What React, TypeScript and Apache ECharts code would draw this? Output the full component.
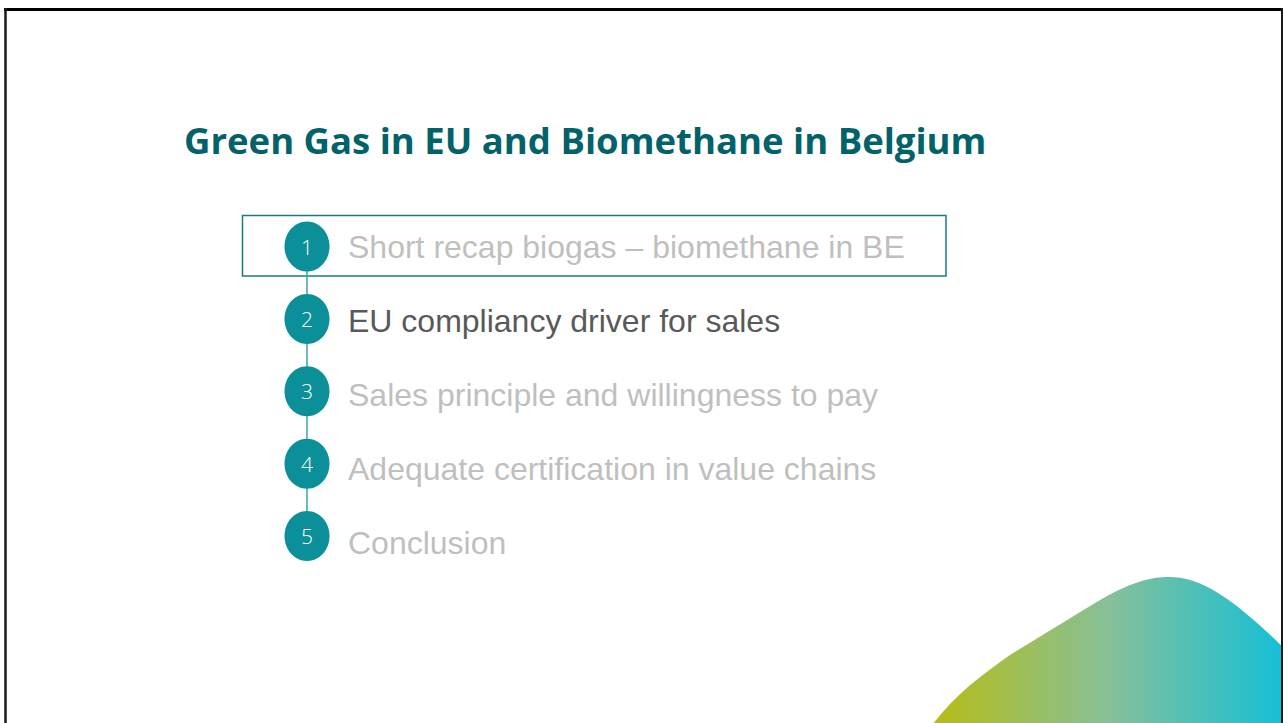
import React, { useEffect, useRef } from "react";
import * as echarts from "echarts";

const TITLE = "Green Gas in EU and Biomethane in Belgium";
const ITEM_NUMBERS = ["1", "2", "3", "4", "5"];
const ITEM_LABELS = [
  "Short recap biogas – biomethane in BE",
  "EU compliancy driver for sales",
  "Sales principle and willingness to pay",
  "Adequate certification in value chains",
  "Conclusion",
];
const ACTIVE_ITEM = 1;
const BOXED_ITEM = 0;

const BLOB_PATH =
  "M 933 724 C 955 695, 980 676, 1010 655 L 1095 603 C 1130 582, 1150 577, 1170 577 C 1205 577, 1240 605, 1288 652 L 1288 730 L 933 730 Z";

echarts.graphic.registerShape("blob", echarts.graphic.extendPath(BLOB_PATH, {}));

export default function App() {
  const ref = useRef<HTMLDivElement>(null);
  useEffect(() => {
    if (!ref.current) return;
    const chart = echarts.init(ref.current, null, { renderer: "svg" });
    const circleY0 = 246.5;
    const circleStep = 72.4;
    const textY0 = 247;
    const textStep = 74.1;
    const cx = 307;
    const teal = "#0B8F99";

    const elements: any[] = [];
    elements.push({
      type: "rect",
      shape: { x: 0, y: 0, width: 1283, height: 723 },
      style: { fill: "#ffffff" },
      z: 0,
    });
    elements.push({
      type: "blob",
      x: 0,
      y: 0,
      style: {
        fill: new echarts.graphic.LinearGradient(0, 0, 1, 0, [
          { offset: 0, color: "#B7BD16" },
          { offset: 0.5, color: "#86C09A" },
          { offset: 1, color: "#12BFD8" },
        ]),
      },
      z: 1,
    });
    elements.push({
      type: "text",
      style: {
        text: TITLE,
        x: 184,
        y: 140,
        font: "bold 36.5px 'Open Sans'",
        fill: "#02626A",
        align: "left",
        verticalAlign: "middle",
      },
      z: 5,
    });
    // highlight box
    elements.push({
      type: "rect",
      shape: {
        x: 242.5,
        y: textY0 + BOXED_ITEM * textStep - 31.5,
        width: 703.5,
        height: 60.5,
      },
      style: { fill: "none", stroke: "#1C7A80", lineWidth: 1.5 },
      z: 3,
    });
    // connector
    elements.push({
      type: "line",
      shape: {
        x1: cx,
        y1: circleY0,
        x2: cx,
        y2: circleY0 + (ITEM_NUMBERS.length - 1) * circleStep,
      },
      style: { stroke: "#3BA5AD", lineWidth: 1.5 },
      z: 3,
    });
    ITEM_NUMBERS.forEach((n, i) => {
      const cy = circleY0 + i * circleStep;
      elements.push({
        type: "ellipse",
        shape: { cx, cy, rx: 22.5, ry: 25 },
        style: { fill: teal },
        z: 4,
      });
      elements.push({
        type: "text",
        style: {
          text: n,
          x: cx,
          y: cy,
          font: "300 21px 'Open Sans'",
          fill: "#ffffff",
          align: "center",
          verticalAlign: "middle",
        },
        z: 5,
      });
    });
    ITEM_LABELS.forEach((label, i) => {
      elements.push({
        type: "text",
        style: {
          text: label,
          x: 348,
          y: textY0 + i * textStep,
          font: "32px 'Liberation Sans'",
          fill: i === ACTIVE_ITEM ? "#595959" : "#BFBFBF",
          align: "left",
          verticalAlign: "middle",
        },
        z: 5,
      });
    });
    // slide frame
    elements.push({
      type: "line",
      shape: { x1: 4, y1: 9.5, x2: 1283, y2: 9.5 },
      style: { stroke: "#000000", lineWidth: 3 },
      z: 10,
    });
    elements.push({
      type: "line",
      shape: { x1: 5.5, y1: 8, x2: 5.5, y2: 723 },
      style: { stroke: "#1a1a1a", lineWidth: 2.5 },
      z: 10,
    });
    elements.push({
      type: "line",
      shape: { x1: 1282, y1: 8, x2: 1282, y2: 723 },
      style: { stroke: "#1a1a1a", lineWidth: 2 },
      z: 10,
    });

    chart.setOption({
      animation: false,
      backgroundColor: "#ffffff",
      graphic: { elements },
    });
    return () => chart.dispose();
  }, []);
  return (
    <div
      ref={ref}
      style={{ position: "absolute", left: 0, top: 0, width: 1283, height: 723 }}
    />
  );
}
